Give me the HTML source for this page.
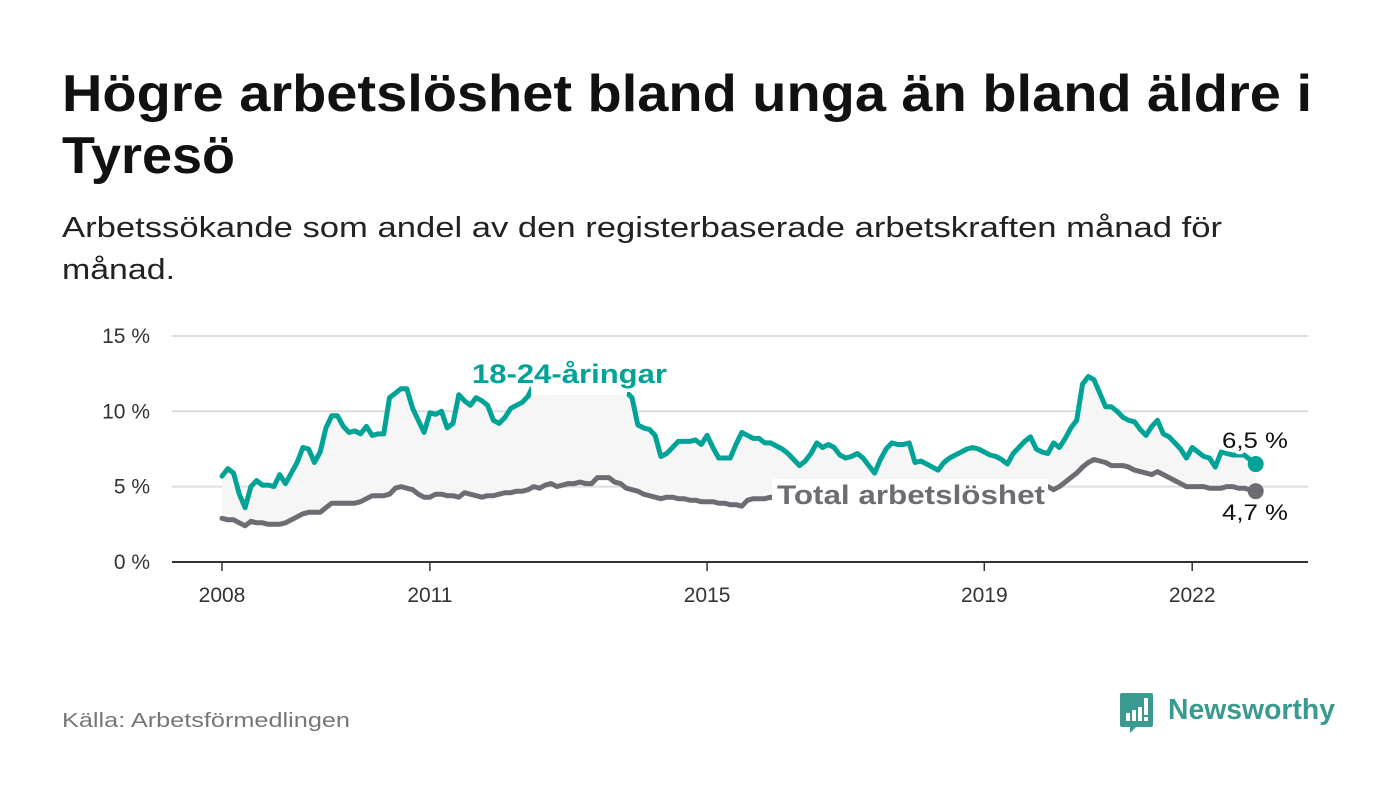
<!DOCTYPE html>
<html><head><meta charset="utf-8">
<style>
html,body{margin:0;padding:0;background:#fff;}
svg{display:block;font-family:"Liberation Sans",sans-serif;}
</style></head>
<body>
<svg id="chart" width="1400" height="794" viewBox="0 0 1400 794">
  <text x="62" y="111" font-size="52" font-weight="bold" fill="#111" textLength="1250" lengthAdjust="spacingAndGlyphs">Högre arbetslöshet bland unga än bland äldre i</text>
  <text x="62" y="173" font-size="52" font-weight="bold" fill="#111" textLength="173" lengthAdjust="spacingAndGlyphs">Tyresö</text>
  <text x="62" y="237" font-size="29" fill="#222" textLength="1160" lengthAdjust="spacingAndGlyphs">Arbetssökande som andel av den registerbaserade arbetskraften månad för</text>
  <text x="62" y="279" font-size="29" fill="#222" textLength="113" lengthAdjust="spacingAndGlyphs">månad.</text>
  <g id="grid"></g>
  <g id="yaxis"></g>
  <g id="xaxis"></g>
  <g id="plot"></g>
  <text x="62" y="727" font-size="20" fill="#777" textLength="288" lengthAdjust="spacingAndGlyphs">Källa: Arbetsförmedlingen</text>
  <g>
    <path d="M1122 693 h29 a2 2 0 0 1 2 2 v30 a2 2 0 0 1 -2 2 h-15 l-6 6 v-6 h-8 a2 2 0 0 1 -2 -2 v-30 a2 2 0 0 1 2 -2z" fill="#3a9a8f"/>
    <rect x="1126" y="713" width="4" height="8" fill="#fff"/>
    <rect x="1132" y="710" width="4" height="11" fill="#fff"/>
    <rect x="1138" y="707" width="4" height="14" fill="#fff"/>
    <rect x="1144" y="698" width="4" height="17" fill="#fff"/>
    <rect x="1144" y="717" width="4" height="4" fill="#fff"/>
    <text x="1168" y="719" font-size="29" font-weight="bold" fill="#3a9a8f" textLength="167" lengthAdjust="spacingAndGlyphs">Newsworthy</text>
  </g>
</svg>
<script>
const startYear = 2008;
const youthValues = [
5.7,6.2,5.9,4.5,3.6,5.0,5.4,5.1,5.1,5.0,5.8,5.2,
5.9,6.6,7.6,7.5,6.6,7.3,8.9,9.7,9.7,9.0,8.6,8.7,
8.5,9.0,8.4,8.5,8.5,10.9,11.2,11.5,11.5,10.2,9.4,8.6,
9.9,9.8,10.0,8.9,9.2,11.1,10.7,10.4,10.9,10.7,10.4,9.4,
9.2,9.6,10.2,10.4,10.6,11.0,11.8,12.3,12.6,12.9,13.0,13.1,
13.2,13.4,13.5,13.6,13.7,13.7,13.5,13.0,12.5,12.0,11.3,10.9,
9.1,8.9,8.8,8.4,7.0,7.2,7.6,8.0,8.0,8.0,8.1,7.8,
8.4,7.6,6.9,6.9,6.9,7.8,8.6,8.4,8.2,8.2,7.9,7.9,
7.7,7.5,7.2,6.8,6.4,6.7,7.2,7.9,7.6,7.8,7.6,7.1,
6.9,7.0,7.2,6.9,6.4,5.9,6.8,7.5,7.9,7.8,7.8,7.9,
6.6,6.7,6.5,6.3,6.1,6.6,6.9,7.1,7.3,7.5,7.6,7.5,
7.3,7.1,7.0,6.8,6.5,7.2,7.6,8.0,8.3,7.5,7.3,7.2,
7.9,7.6,8.2,8.9,9.4,11.8,12.3,12.1,11.2,10.3,10.3,10.0,
9.6,9.4,9.3,8.8,8.4,9.0,9.4,8.5,8.3,7.9,7.5,6.9,
7.6,7.3,7.0,6.9,6.3,7.3,7.2,7.1,7.1,7.1,6.8,6.5];
const totalValues = [
2.9,2.8,2.8,2.6,2.4,2.7,2.6,2.6,2.5,2.5,2.5,2.6,
2.8,3.0,3.2,3.3,3.3,3.3,3.6,3.9,3.9,3.9,3.9,3.9,
4.0,4.2,4.4,4.4,4.4,4.5,4.9,5.0,4.9,4.8,4.5,4.3,
4.3,4.5,4.5,4.4,4.4,4.3,4.6,4.5,4.4,4.3,4.4,4.4,
4.5,4.6,4.6,4.7,4.7,4.8,5.0,4.9,5.1,5.2,5.0,5.1,
5.2,5.2,5.3,5.2,5.2,5.6,5.6,5.6,5.3,5.2,4.9,4.8,
4.7,4.5,4.4,4.3,4.2,4.3,4.3,4.2,4.2,4.1,4.1,4.0,
4.0,4.0,3.9,3.9,3.8,3.8,3.7,4.1,4.2,4.2,4.2,4.3,
4.2,4.4,4.3,4.3,4.2,4.2,4.1,4.1,4.0,4.0,4.0,3.9,
3.9,3.9,3.8,3.8,3.8,3.8,3.7,3.8,3.8,3.8,3.9,3.9,
3.9,4.0,4.0,4.0,4.1,4.1,4.2,4.2,4.3,4.3,4.4,4.5,
4.5,4.6,4.6,4.7,4.8,4.8,4.9,4.9,5.0,5.0,5.0,5.0,
4.8,5.0,5.3,5.6,5.9,6.3,6.6,6.8,6.7,6.6,6.4,6.4,
6.4,6.3,6.1,6.0,5.9,5.8,6.0,5.8,5.6,5.4,5.2,5.0,
5.0,5.0,5.0,4.9,4.9,4.9,5.0,5.0,4.9,4.9,4.8,4.7];
const yTicks = [0,5,10,15];
const yTickLabels = ["0 %","5 %","10 %","15 %"];
const xTicks = [2008,2011,2015,2019,2022];
const xTickLabels = ["2008","2011","2015","2019","2022"];

const NS="http://www.w3.org/2000/svg";
const X0=222, PX_PER_YEAR=69.3, Y0=562, PX_PER_PCT=15.07;
function xScale(yearFrac){return X0+(yearFrac-startYear)*PX_PER_YEAR;}
function yScale(v){return Y0-v*PX_PER_PCT;}
function monthX(i){return xScale(startYear+i/12);}
function mk(tag,attrs,parent){const e=document.createElementNS(NS,tag);for(const k in attrs)e.setAttribute(k,attrs[k]);parent.appendChild(e);return e;}

const grid=document.getElementById('grid'), yax=document.getElementById('yaxis'), xax=document.getElementById('xaxis'), plot=document.getElementById('plot');
yTicks.forEach((t,i)=>{
  const l=mk('line',{x1:172,x2:1308,y1:yScale(t),y2:yScale(t),stroke:t===0?'#333':'#ddd','stroke-width':2},grid);
  
  
  const tx=mk('text',{x:150,y:yScale(t)+7,'font-size':21,fill:'#333','text-anchor':'end'},yax);
  
  
  tx.textContent=yTickLabels[i];
});
xTicks.forEach((t,i)=>{
  const l=mk('line',{x1:xScale(t),x2:xScale(t),y1:562,y2:571,stroke:'#333','stroke-width':1.5},xax);
  
  
  const tx=mk('text',{x:xScale(t),y:602,'font-size':21,fill:'#333','text-anchor':'middle'},xax);
  
  
  tx.textContent=xTickLabels[i];
});
let d='';
youthValues.forEach((v,i)=>{d+=(i?'L':'M')+monthX(i).toFixed(1)+' '+yScale(v).toFixed(1);});
for(let i=totalValues.length-1;i>=0;i--){d+='L'+monthX(i).toFixed(1)+' '+yScale(totalValues[i]).toFixed(1);}
const area=mk('path',{d:d+'Z',fill:'#f6f6f6'},plot);


function line(vals,color,name){
  let p='';vals.forEach((v,i)=>{p+=(i?'L':'M')+monthX(i).toFixed(1)+' '+yScale(v).toFixed(1);});
  const e=mk('path',{d:p,fill:'none',stroke:color,'stroke-width':5,'stroke-linejoin':'round','stroke-linecap':'round'},plot);
  
  
  const n=vals.length-1;
  const c=mk('circle',{cx:monthX(n),cy:yScale(vals[n]),r:8,fill:color},plot);
  
  
}
line(totalValues,'#6e6c73','total-line');
line(youthValues,'#00a396','youth-line');
function bg(x,y,w,h,name){
  const r=mk('rect',{x:x,y:y,width:w,height:h,fill:'#fff'},plot);
  
  
}
bg(531,338,96,57,'youth-label-background');
bg(772,479,276,34,'total-label-background');
function label(txt,x,y,size,color,weight,name,len){
  const t=mk('text',{x:x,y:y,'font-size':size,fill:color,'font-weight':weight,stroke:'#fff','stroke-width':7,'paint-order':'stroke','stroke-linejoin':'round',textLength:len,lengthAdjust:'spacingAndGlyphs'},plot);
  
  
  t.textContent=txt;
}
label('18-24-åringar',472,383,27,'#00a396','bold','youth-series-label',195);
label('Total arbetslöshet',777,504,27,'#6e6c73','bold','total-series-label',268);
label('6,5 %',1222,448,22,'#111','normal','youth-end-value',66);
label('4,7 %',1222,520,22,'#111','normal','total-end-value',66);
</script>
</body></html>
